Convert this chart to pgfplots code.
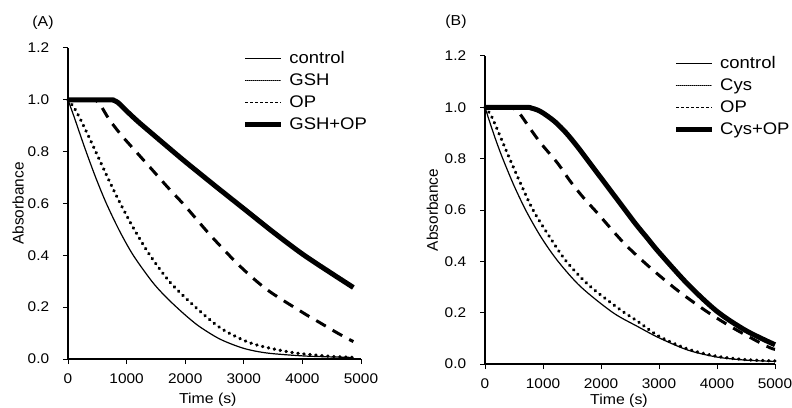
\documentclass[border=0pt]{standalone}
\usepackage{fontspec}
\setmainfont{Liberation Sans}
\newfontfamily\wide[FakeStretch=1.1]{Liberation Sans}
\usepackage{pgfplots}
\pgfplotsset{compat=1.18}
\pgfplotsset{
  kin/.style={
    scale only axis, anchor=south west,
    xmin=0, xmax=5000, ymin=0, ymax=1.2,
    axis x line*=bottom, axis y line*=left,
    axis line style={-, line width=1.5pt, black},
    xtick={0,1000,2000,3000,4000,5000},
    ytick={0,0.2,0.4,0.6,0.8,1.0,1.2},
    tick align=outside, major tick length=5pt,
    tick style={line width=1pt, black},
    scaled x ticks=false,
    /pgf/number format/assume math mode=true,
    xticklabel style={/pgf/number format/set thousands separator={}, /pgf/number format/fixed,
      anchor=base, inner sep=0pt, yshift=-19.3pt},
    yticklabel style={/pgf/number format/fixed, /pgf/number format/fixed zerofill, /pgf/number format/precision=1,
      anchor=east, inner sep=0pt, xshift=-13.7pt},
    tick label style={font=\wide\fontsize{14}{14}\selectfont},
    clip=false,
    legend cell align=left,
    legend style={draw=none, fill=none, font=\wide\fontsize{16.8}{20}\selectfont,
      anchor=north west, inner sep=0pt, row sep=4pt,
      nodes={inner sep=0pt, text height=14pt, text depth=4pt},
      /tikz/every odd column/.append style={column sep=5.5pt}},
  },
  ctrl/.style={black, line width=1.2pt, smooth},
  dotl/.style={black, line width=3.4pt, dash pattern=on 0.3pt off 5.7pt, line cap=round, smooth},
  dshl/.style={black, line width=3pt, dash pattern=on 11pt off 8pt, smooth},
  thkl/.style={black, line width=5pt, smooth},
  lgctrl/.style={legend image code/.code={\draw[black, line width=1pt] (0pt,0pt) -- (36pt,0pt);}},
  lgdot/.style={legend image code/.code={\draw[black, line width=0.7pt, dash pattern=on 1pt off 1pt] (0pt,0pt) -- (36pt,0pt);}},
  lgdsh/.style={legend image code/.code={\draw[black, line width=0.8pt, dash pattern=on 3pt off 2pt] (0pt,0pt) -- (36pt,0pt);}},
  lgthk/.style={legend image code/.code={\draw[black, line width=5pt] (0pt,0pt) -- (36pt,0pt);}},
}
\begin{document}
\begin{tikzpicture}
\useasboundingbox (0,0) rectangle (792pt,407pt);
\node[anchor=base, font=\wide\fontsize{14.4}{16}\selectfont] at (43pt,380pt) {(A)};
\node[anchor=base, font=\wide\fontsize{14.4}{16}\selectfont] at (456pt,381pt) {(B)};
% Panel A
\begin{axis}[kin, at={(68pt,48pt)}, width=293pt, height=311pt,
  xlabel={Time (s)}, ylabel={Absorbance},
  xlabel style={font=\wide\fontsize{14.4}{16}\selectfont, at={(axis description cs:0.477,0)}, anchor=base, yshift=-44.3pt},
  ylabel style={font=\fontsize{15.4}{16}\selectfont, at={(axis description cs:0,0.5)}, anchor=center, yshift=50pt},
  legend style={at={(axis description cs:0.5962,0.9968)}}]
\addplot[ctrl, lgctrl] coordinates {(0,1.0)(100,0.937)(200,0.871)(314,0.797)(480,0.696)(657,0.599)(880,0.494)(1114,0.4)(1430,0.3)(1650,0.244)(1857,0.199)(2050,0.16)(2257,0.123)(2600,0.076)(3000,0.041)(3400,0.023)(4000,0.012)(4500,0.008)(4870,0.006)};
\addlegendentry{control}
\addplot[dotl, lgdot] coordinates {(0,1.0)(100,0.971)(200,0.93)(350,0.86)(514,0.78)(700,0.689)(886,0.603)(1130,0.5)(1400,0.4)(1750,0.294)(2200,0.195)(2600,0.12)(3000,0.072)(3290,0.05)(3700,0.03)(4000,0.02)(4500,0.01)(4870,0.006)};
\addlegendentry{GSH}
\addplot[dshl, lgdsh] coordinates {(0,1.0)(400,1.0)(480,0.997)(540,0.985)(620,0.955)(700,0.925)(800,0.895)(943,0.855)(1200,0.79)(1457,0.725)(1700,0.663)(2000,0.59)(2440,0.475)(2940,0.357)(3400,0.267)(4000,0.18)(4300,0.14)(4600,0.1)(4870,0.067)};
\addlegendentry{OP}
\addplot[thkl, lgthk] coordinates {(0,1.0)(700,1.0)(780,0.998)(850,0.99)(920,0.975)(1000,0.957)(1200,0.915)(1500,0.857)(1750,0.809)(2000,0.7615)(2500,0.67)(3000,0.58)(3500,0.49)(4000,0.405)(4500,0.33)(4870,0.276)};
\addlegendentry{GSH+OP}
\end{axis}
% Panel B
\begin{axis}[kin, at={(485pt,43pt)}, width=290pt, height=308pt,
  xlabel={Time (s)}, ylabel={Absorbance},
  xlabel style={font=\wide\fontsize{14.4}{16}\selectfont, at={(axis description cs:0.462,0)}, anchor=base, yshift=-40.6pt},
  ylabel style={font=\fontsize{15.4}{16}\selectfont, at={(axis description cs:0,0.5)}, anchor=center, yshift=52.7pt},
  legend style={at={(axis description cs:0.65,1.0065)}}]
\addplot[ctrl, lgctrl] coordinates {(0,1.0)(100,0.93)(200,0.864)(310,0.798)(500,0.695)(712,0.595)(970,0.493)(1259,0.4)(1650,0.301)(2200,0.201)(2640,0.145)(3000,0.102)(3500,0.054)(4000,0.027)(4500,0.015)(5000,0.01)};
\addlegendentry{control}
\addplot[dotl, lgdot] coordinates {(0,1.0)(100,0.97)(200,0.92)(425,0.8)(620,0.7)(828,0.6)(1100,0.5)(1402,0.4)(1800,0.305)(2330,0.212)(2640,0.165)(3000,0.108)(3500,0.058)(4000,0.03)(4500,0.017)(5000,0.012)};
\addlegendentry{Cys}
\addplot[dshl, lgdsh] coordinates {(0,1.0)(400,1.0)(500,0.995)(600,0.975)(800,0.91)(970,0.858)(1260,0.78)(1460,0.715)(1690,0.65)(1930,0.59)(2400,0.47)(2850,0.375)(3330,0.285)(3820,0.205)(4280,0.14)(4850,0.07)(5000,0.057)};
\addlegendentry{OP}
\addplot[thkl, lgthk] coordinates {(0,1.0)(700,1.0)(800,0.997)(900,0.99)(1000,0.978)(1200,0.945)(1400,0.9)(1600,0.845)(1800,0.785)(2000,0.725)(2200,0.665)(2400,0.605)(2600,0.545)(2800,0.49)(3000,0.435)(3500,0.31)(4000,0.205)(4500,0.13)(5000,0.075)};
\addlegendentry{Cys+OP}
\end{axis}
\end{tikzpicture}
\end{document}
